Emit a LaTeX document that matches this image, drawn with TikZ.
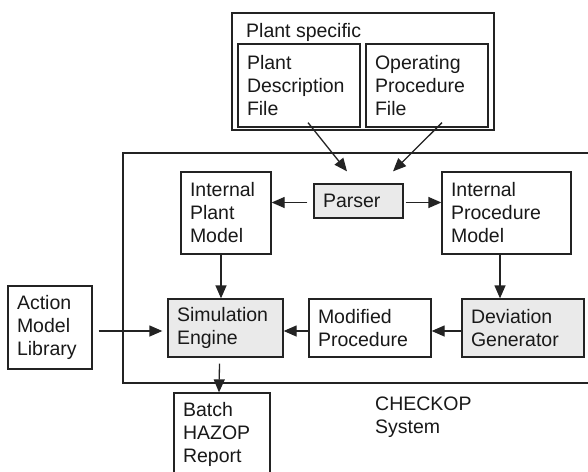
\documentclass[tikz,border=0pt]{standalone}
\usepackage{fontspec}
\setmainfont{Liberation Sans}
\usetikzlibrary{arrows.meta,calc}
\definecolor{linec}{RGB}{35,35,35}
\definecolor{textc}{RGB}{25,25,25}
\definecolor{shade}{RGB}{234,234,234}
\tikzset{
  txt/.style={font=\fontsize{19.5}{23}\selectfont, text=textc},
  box/.style={txt, draw=linec, line width=1.3pt, inner xsep=9pt, inner ysep=0pt, align=left},
  shadedbox/.style={box, fill=shade},
  arr/.style={draw=linec, line width=1.3pt, -{Triangle[length=13pt,width=11pt]}},
}
\begin{document}
\begin{tikzpicture}[x=1pt,y=-1pt]
\useasboundingbox (0,0) rectangle (588,471);
\clip (0,0) rectangle (588,471);
\fill[white] (0,0) rectangle (588,471);

% Plant specific container
\node[draw=linec, line width=1.3pt, minimum width=262pt, minimum height=117pt, inner sep=0pt] (ps) at (363,71.5) {};
\node[txt, anchor=north west, inner sep=0pt] (pslabel) at (246,23) {Plant specific};
\node[box, minimum width=122pt, minimum height=83pt, text width=104pt] (pdf) at (299,85.5) {Plant\\Description\\File};
\node[box, minimum width=122pt, minimum height=83pt, text width=104pt] (opf) at (427,85.5) {Operating\\Procedure\\File};

% CHECKOP system container
\node[draw=linec, line width=1.3pt, minimum width=477pt, minimum height=230pt, inner sep=0pt] (sys) at (361.5,268) {};
\node[txt, anchor=north west, inner sep=0pt, align=left] (syslabel) at (375,397) {CHECKOP\\System};

\node[box, minimum width=90pt, minimum height=82pt, text width=72pt] (ipm) at (226,213) {Internal\\Plant\\Model};
\node[shadedbox, minimum width=89pt, minimum height=34pt, text width=71pt] (parser) at (358.5,201) {Parser};
\node[box, minimum width=129pt, minimum height=82pt, text width=111pt] (iprm) at (506.5,213) {Internal\\Procedure\\Model};
\node[shadedbox, minimum width=115pt, minimum height=58pt, text width=97pt] (sime) at (225.5,328) {Simulation\\Engine};
\node[box, minimum width=122pt, minimum height=58pt, text width=104pt] (modp) at (370,328) {Modified\\Procedure};
\node[shadedbox, minimum width=122pt, minimum height=58pt, text width=104pt] (devg) at (523,328) {Deviation\\Generator};
\node[box, minimum width=84pt, minimum height=83pt, text width=66pt] (aml) at (50,327.5) {Action\\Model\\Library};
\node[box, minimum width=96pt, minimum height=83pt, text width=78pt] (batch) at (222,434.5) {Batch\\HAZOP\\Report};

% Connectors
\draw[arr] ([xshift=9pt,yshift=5pt]pdf.south) -- ([xshift=-11.5pt,yshift=12pt]parser.north);
\draw[arr] ([xshift=15pt,yshift=5pt]opf.south) -- ([xshift=34.5pt,yshift=12pt]parser.north);
\draw[arr] ([xshift=-6pt,yshift=-1.5pt]parser.west) -- ([yshift=-1.5pt]parser.west -| ipm.east);
\draw[arr] ([xshift=2pt,yshift=-1.5pt]parser.east) -- ([yshift=-1.5pt]parser.east -| iprm.west);
\draw[arr] ([xshift=-5pt]ipm.south) -- ([xshift=-5pt]ipm.south |- sime.north);
\draw[arr] ([xshift=-6.5pt]iprm.south) -- ([xshift=-6.5pt]iprm.south |- devg.north);
\draw[arr] ([yshift=-3pt]devg.west) -- ([yshift=-3pt]devg.west -| modp.east);
\draw[arr] ([yshift=-3pt]modp.west) -- ([yshift=-3pt]modp.west -| sime.east);
\draw[arr, shorten <=6pt, shorten >=5pt] ([yshift=-3.5pt]aml.east) -- ([yshift=-3pt]sime.west);
\draw[arr] ([xshift=-6pt,yshift=-6pt]sime.south) -- ([xshift=-3pt]batch.north);
\end{tikzpicture}
\end{document}
